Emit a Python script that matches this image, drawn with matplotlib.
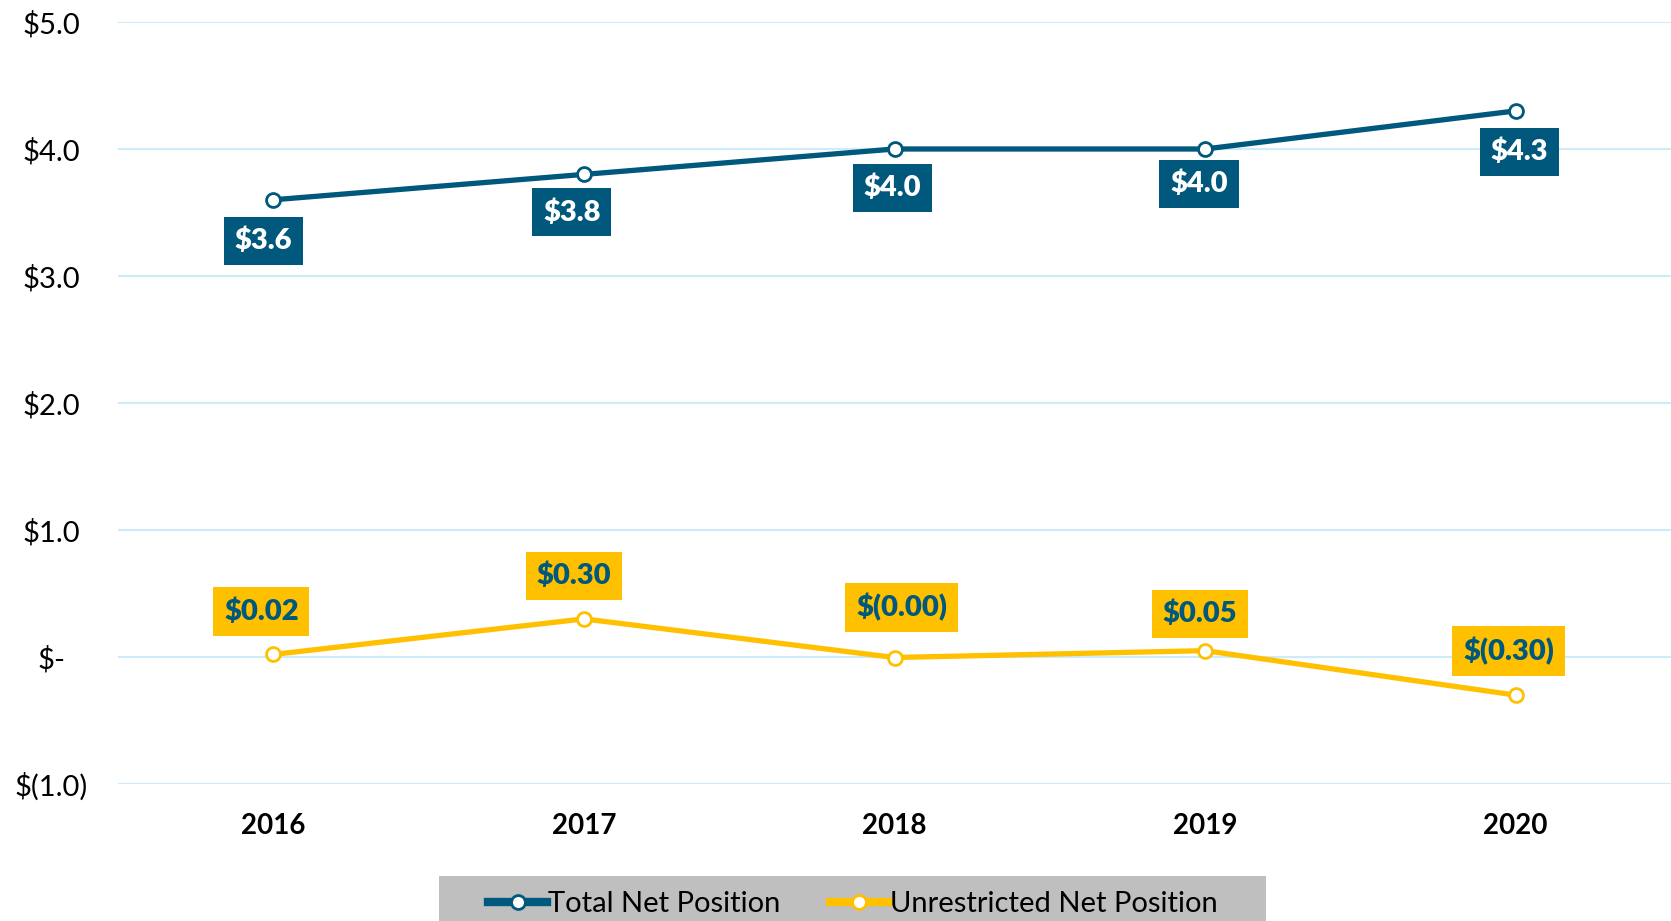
import matplotlib
matplotlib.use("Agg")
import matplotlib.pyplot as plt
from matplotlib.patches import Rectangle

years = ["2016", "2017", "2018", "2019", "2020"]
total_net = [3.6, 3.8, 4.0, 4.0, 4.3]
unrestricted_net = [0.02, 0.30, -0.004, 0.05, -0.30]
total_labels = ["$3.6", "$3.8", "$4.0", "$4.0", "$4.3"]
unres_labels = ["$0.02", "$0.30", "$(0.00)", "$0.05", "$(0.30)"]
ytick_vals = [5, 4, 3, 2, 1, 0, -1]
ytick_labels = ["$5.0", "$4.0", "$3.0", "$2.0", "$1.0", "$-", "$(1.0)"]

NAVY = "#00587C"
GOLD = "#FFC000"
GRID = "#CDEBF8"

plt.rcParams['font.family'] = ['Lato', 'DejaVu Sans']

fig = plt.figure(figsize=(16.71, 9.21), dpi=100)
ax = fig.add_axes([118/1671, 1-784/921, 1-118/1671, (784-22)/921])

x = list(range(len(years)))
ax.plot(x, total_net, color=NAVY, lw=3.8, marker='o', ms=10, mfc='white',
        mec=NAVY, mew=2, zorder=3, label="Total Net Position")
ax.plot(x, unrestricted_net, color=GOLD, lw=3.8, marker='o', ms=10, mfc='white',
        mec=GOLD, mew=2, zorder=3, label="Unrestricted Net Position")

tot_off = [(-10, -41), (-12, -38), (-2, -39), (-6, -35), (4, -41)]
unr_off = [(-12, 43), (-10, 43), (7, 50), (-5, 37), (-7, 44)]
for i in x:
    ax.annotate(total_labels[i], (i, total_net[i]), xytext=tot_off[i],
                textcoords='offset pixels', ha='center', va='center',
                fontsize=21, fontweight='heavy', color='white', zorder=5,
                bbox=dict(boxstyle='square,pad=0.37', fc=NAVY, ec='none'))
    ax.annotate(unres_labels[i], (i, unrestricted_net[i]), xytext=unr_off[i],
                textcoords='offset pixels', ha='center', va='center',
                fontsize=21, fontweight='heavy', color=NAVY, zorder=5,
                bbox=dict(boxstyle='square,pad=0.37', fc=GOLD, ec='none'))

ax.set_xlim(-0.5, 4.5)
ax.set_ylim(-1, 5)
ax.set_yticks(ytick_vals)
ax.set_yticklabels(ytick_labels, fontsize=21)
for t in ax.get_yticklabels():
    t.set_horizontalalignment('center')
ax.tick_params(axis='y', length=0, pad=48)
ax.set_xticks(x)
ax.set_xticklabels(years, fontsize=20, fontweight='bold')
ax.tick_params(axis='x', length=0, pad=21)
ax.grid(axis='y', color=GRID, lw=1.5)
ax.set_axisbelow(True)
for s in ax.spines.values():
    s.set_visible(False)

fig.patches.append(Rectangle((439/1671, 0), (1266-439)/1671, (921-876)/921,
                             transform=fig.transFigure, fc='#BFBFBF', ec='none',
                             zorder=0))
leg = fig.legend(loc='center', bbox_to_anchor=(853/1671, 1-904/921), ncol=2,
                 frameon=False, fontsize=21, handlelength=2.0,
                 handletextpad=0.05, columnspacing=1.7, borderpad=0)
for ln in leg.get_lines():
    ln.set_linewidth(6)

fig.savefig("out.png", dpi=100)
